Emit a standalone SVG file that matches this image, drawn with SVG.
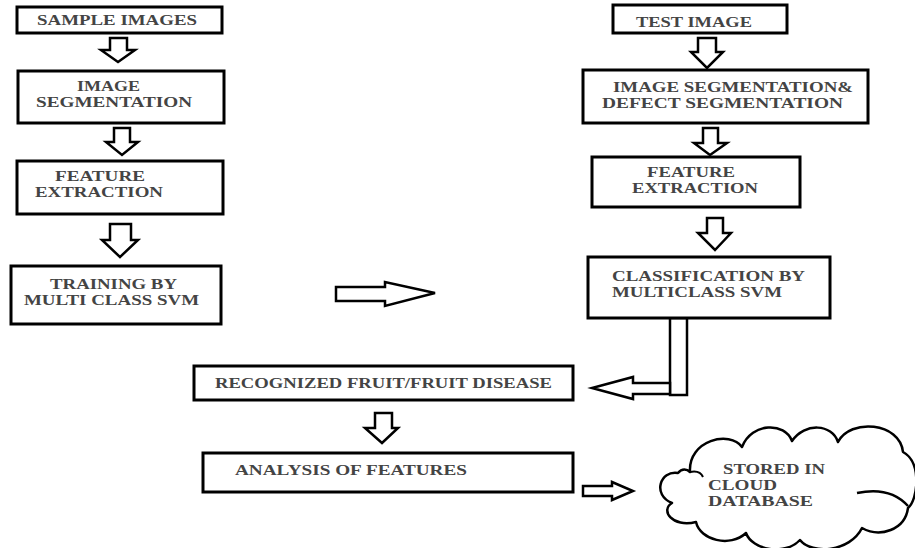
<svg xmlns="http://www.w3.org/2000/svg" width="915" height="548" viewBox="0 0 915 548">
<style>
.box{fill:#fff;stroke:#000;stroke-width:3}
.arr{fill:#fff;stroke:#000;stroke-width:2.5;stroke-linejoin:miter}
.t{font-family:"Liberation Serif","Times New Roman",serif;font-size:14px;fill:#444;font-weight:bold}
.cloud{fill:#fff;stroke:#000;stroke-width:2.5;stroke-linejoin:round}
</style>
<rect width="915" height="548" fill="#fff"/>
<g id="connectors">
<polygon class="arr" points="110,38 127,38 127,50 135,50 118,62 101,50 110,50"/>
<polygon class="arr" points="114,128 130,128 130,142 138,142 122,155 106,142 114,142"/>
<polygon class="arr" points="110,224 131,224 131,240 138,240 120,257 102,240 110,240"/>
<polygon class="arr" points="698,38 716,38 716,52 723,52 707,68 691,52 698,52"/>
<polygon class="arr" points="703,128 718,128 718,143 727,143 710,155 694,143 703,143"/>
<polygon class="arr" points="707,218 723,218 723,233 731,233 715,250 698,233 707,233"/>
<polygon class="arr" points="336,287 385,287 385,282 435,293 385,306 385,301 336,301"/>
<rect class="arr" x="670" y="318" width="17" height="77"/>
<polygon class="arr" points="670,383 633,383 633,377 592,388 633,399 633,394 670,394"/>
<polygon class="arr" points="375,413 392,413 392,428 398,428 382,443 365,428 375,428"/>
<polygon class="arr" points="583,486 612,486 612,482 633,491 612,500 612,496 583,496"/>
</g>
<g id="sample-images">
<rect class="box" x="17" y="7" width="205" height="26"/>
<text class="t" x="37" y="25" textLength="160" lengthAdjust="spacingAndGlyphs">SAMPLE IMAGES</text>
</g>
<g id="image-segmentation">
<rect class="box" x="18" y="71" width="206" height="52"/>
<text class="t" x="77" y="91" textLength="63" lengthAdjust="spacingAndGlyphs">IMAGE</text>
<text class="t" x="36" y="107" textLength="156" lengthAdjust="spacingAndGlyphs">SEGMENTATION</text>
</g>
<g id="feature-extraction-left">
<rect class="box" x="17" y="161" width="206" height="53"/>
<text class="t" x="55" y="181" textLength="90" lengthAdjust="spacingAndGlyphs">FEATURE</text>
<text class="t" x="35" y="197" textLength="128" lengthAdjust="spacingAndGlyphs">EXTRACTION</text>
</g>
<g id="training">
<rect class="box" x="11" y="266" width="210" height="58"/>
<text class="t" x="50" y="289" textLength="127" lengthAdjust="spacingAndGlyphs">TRAINING BY</text>
<text class="t" x="24" y="305" textLength="175" lengthAdjust="spacingAndGlyphs">MULTI CLASS SVM</text>
</g>
<g id="test-image">
<rect class="box" x="613" y="5" width="174" height="28"/>
<text class="t" x="636" y="27" textLength="116" lengthAdjust="spacingAndGlyphs">TEST IMAGE</text>
</g>
<g id="defect-segmentation">
<rect class="box" x="583" y="70" width="285" height="53"/>
<text class="t" x="613" y="92" textLength="240" lengthAdjust="spacingAndGlyphs">IMAGE SEGMENTATION&amp;</text>
<text class="t" x="602" y="108" textLength="241" lengthAdjust="spacingAndGlyphs">DEFECT SEGMENTATION</text>
</g>
<g id="feature-extraction-right">
<rect class="box" x="592" y="157" width="208" height="50"/>
<text class="t" x="647" y="177" textLength="88" lengthAdjust="spacingAndGlyphs">FEATURE</text>
<text class="t" x="632" y="193" textLength="126" lengthAdjust="spacingAndGlyphs">EXTRACTION</text>
</g>
<g id="classification">
<rect class="box" x="588" y="257" width="242" height="61"/>
<text class="t" x="612" y="281" textLength="193" lengthAdjust="spacingAndGlyphs">CLASSIFICATION BY</text>
<text class="t" x="612" y="297" textLength="170" lengthAdjust="spacingAndGlyphs">MULTICLASS SVM</text>
</g>
<g id="recognized">
<rect class="box" x="194" y="366" width="379" height="34"/>
<text class="t" x="215" y="388" textLength="337" lengthAdjust="spacingAndGlyphs">RECOGNIZED FRUIT/FRUIT DISEASE</text>
</g>
<g id="analysis">
<rect class="box" x="203" y="453" width="370" height="39"/>
<text class="t" x="235" y="475" textLength="232" lengthAdjust="spacingAndGlyphs">ANALYSIS OF FEATURES</text>
</g>
<g id="cloud">
<path class="cloud" d="M 690 472 C 688 440 730 430 742 447 C 752 422 785 422 792 441 C 805 422 832 424 838 442 C 850 418 900 422 903 452 C 922 462 918 500 908 508 C 905 530 880 538 862 528 C 850 552 812 555 800 540 C 785 556 752 550 746 533 C 730 548 700 540 696 522 C 672 528 660 510 672 503 C 652 495 660 470 678 473 C 682 468 687 469 690 472 Z"/>
<path d="M 857 493 Q 890 486 908 506" fill="none" stroke="#000" stroke-width="2.5"/>
<path d="M 690 472 Q 700 470 703 477" fill="none" stroke="#000" stroke-width="2"/>
<text class="t" x="723" y="474" textLength="102" lengthAdjust="spacingAndGlyphs">STORED IN</text>
<text class="t" x="708" y="490" textLength="69" lengthAdjust="spacingAndGlyphs">CLOUD</text>
<text class="t" x="708" y="506" textLength="105" lengthAdjust="spacingAndGlyphs">DATABASE</text>
</g>
</svg>
